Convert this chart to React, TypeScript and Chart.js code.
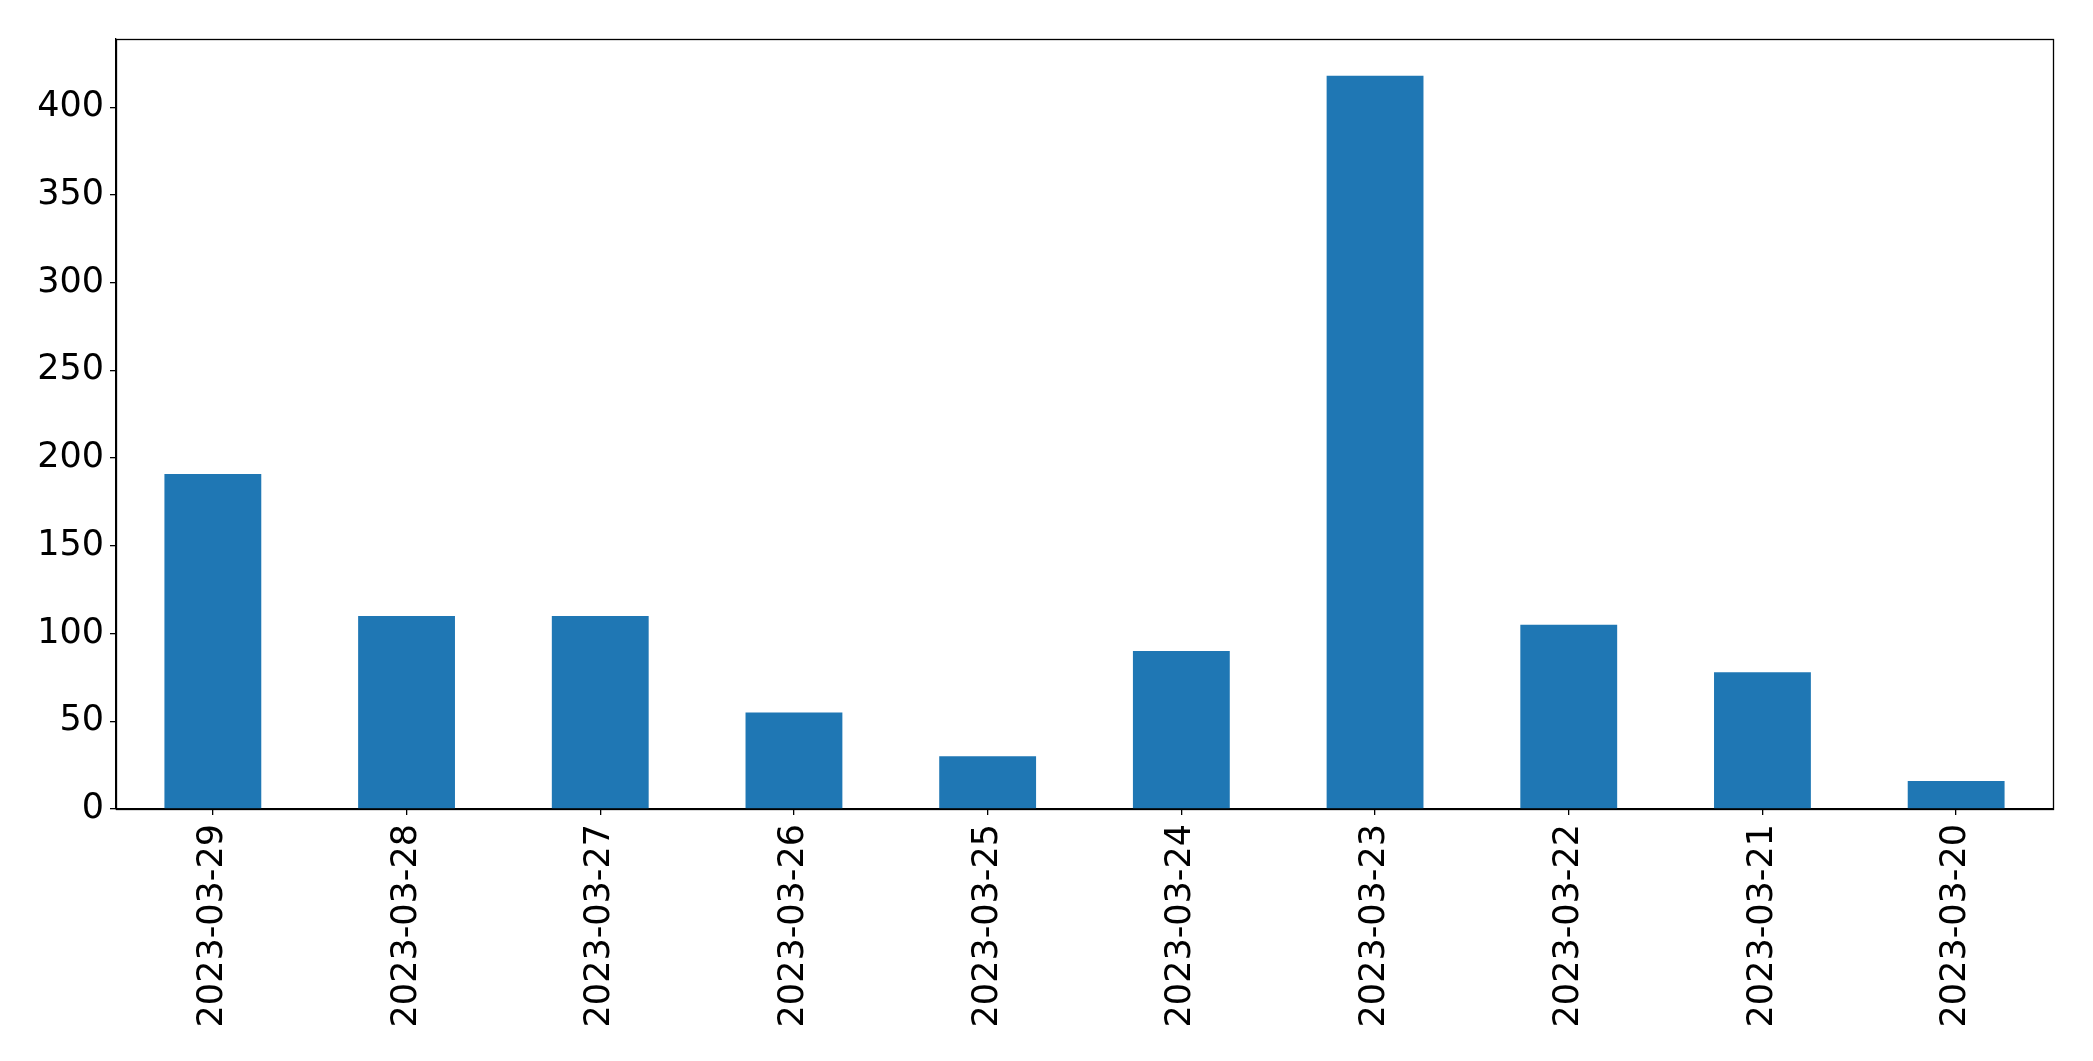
import React, { useEffect, useRef } from "react";
import { Chart, registerables } from "chart.js";

Chart.register(...registerables);

const categories = [
  "2023-03-29",
  "2023-03-28",
  "2023-03-27",
  "2023-03-26",
  "2023-03-25",
  "2023-03-24",
  "2023-03-23",
  "2023-03-22",
  "2023-03-21",
  "2023-03-20",
];
const counts = [191, 110, 110, 55, 30, 90, 418, 105, 78, 16];
const yTickValues = [0, 50, 100, 150, 200, 250, 300, 350, 400];
const yMax = 438.9;

const W = 2093;
const H = 1061;
const FONT = "'DejaVu Sans', sans-serif";

const framePlugin = {
  id: "frame",
  afterDraw(chart: any) {
    const { ctx, chartArea } = chart;
    ctx.save();
    ctx.strokeStyle = "#000";
    ctx.lineWidth = 1.3;
    ctx.strokeRect(
      Math.round(chartArea.left) + 0.5,
      Math.round(chartArea.top) + 0.5,
      Math.round(chartArea.right - chartArea.left),
      Math.round(chartArea.bottom - chartArea.top)
    );
    ctx.restore();
  },
};

export default function App() {
  const ref = useRef<HTMLCanvasElement | null>(null);

  useEffect(() => {
    if (!ref.current) return;
    const chart = new Chart(ref.current, {
      type: "bar",
      data: {
        labels: categories,
        datasets: [
          {
            data: counts,
            backgroundColor: "#1f77b4",
            borderWidth: 0,
            categoryPercentage: 1,
            barPercentage: 0.5,
          },
        ],
      },
      options: {
        responsive: false,
        animation: false,
        events: [],
        layout: { padding: { top: 39, right: 40, left: 0, bottom: 0 } },
        plugins: {
          legend: { display: false },
          tooltip: { enabled: false },
        },
        scales: {
          x: {
            grid: {
              offset: false,
              drawOnChartArea: false,
              drawTicks: true,
              tickLength: 6,
              color: "#000",
              lineWidth: 1.3,
            },
            border: { display: true, color: "#000", width: 1.3 },
            ticks: {
              color: "#000",
              font: { family: FONT, size: 35 },
              maxRotation: 90,
              minRotation: 90,
              padding: 9,
              autoSkip: false,
            },
            afterFit(scale: any) {
              scale.height = H - 809;
            },
          },
          y: {
            min: 0,
            max: yMax,
            grid: {
              drawOnChartArea: false,
              drawTicks: true,
              tickLength: 6,
              color: "#000",
              lineWidth: 1.3,
            },
            border: { display: true, color: "#000", width: 1.3 },
            ticks: {
              color: "#000",
              font: { family: FONT, size: 35 },
              padding: 6,
            },
            afterBuildTicks(scale: any) {
              scale.ticks = yTickValues.map((v) => ({ value: v }));
            },
            afterFit(scale: any) {
              scale.width = 116;
            },
          },
        },
      },
      plugins: [framePlugin],
    });
    return () => chart.destroy();
  }, []);

  return (
    <div
      style={{
        position: "fixed",
        left: 0,
        top: 0,
        width: W,
        height: H,
        background: "#fff",
      }}
    >
      <canvas ref={ref} width={W} height={H} style={{ width: W, height: H }} />
    </div>
  );
}
